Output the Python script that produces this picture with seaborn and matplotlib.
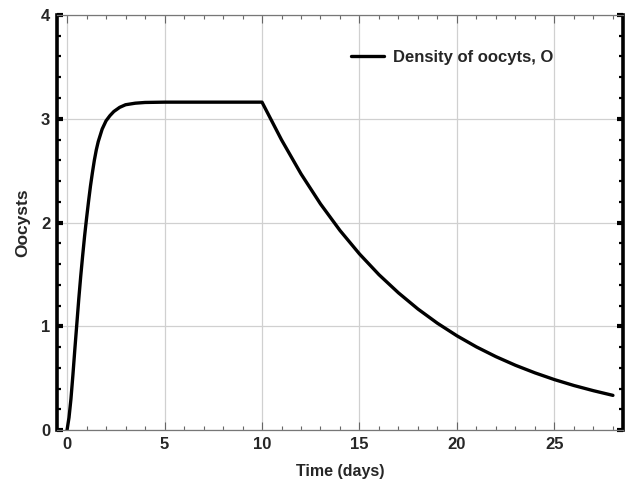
import matplotlib
matplotlib.use("Agg")
import matplotlib.pyplot as plt
from matplotlib.ticker import MultipleLocator
import seaborn as sns
import pandas as pd

# Values
rise_time = [0.0, 0.1, 0.2, 0.3, 0.4, 0.5, 0.6, 0.7, 0.8, 0.9, 1.0, 1.1, 1.2, 1.3,
             1.4, 1.5, 1.6, 1.8, 2.0, 2.2, 2.4, 2.7, 3.0, 3.5, 4.0, 5.0, 6.0, 8.0]
rise_value = [0.0, 0.12, 0.30, 0.53, 0.78, 1.02, 1.26, 1.48, 1.68, 1.87, 2.04, 2.20, 2.35, 2.48,
              2.60, 2.70, 2.78, 2.90, 2.98, 3.03, 3.07, 3.11, 3.135, 3.15, 3.157, 3.16, 3.16, 3.16]
decay_time = [10, 11, 12, 13, 14, 15, 16, 17, 18, 19, 20, 21, 22, 23, 24, 25, 26, 27, 28]
decay_value = [3.16, 2.797, 2.469, 2.179, 1.923, 1.697, 1.497, 1.322, 1.166, 1.029, 0.908,
               0.801, 0.707, 0.624, 0.551, 0.486, 0.429, 0.379, 0.334]
x_ticks = [0, 5, 10, 15, 20, 25]
y_ticks = [0, 1, 2, 3, 4]
series_label = "Density of oocyts, O"

df = pd.DataFrame({"Time": rise_time + decay_time, "O": rise_value + decay_value})

sns.set_theme(style="white")
plt.rcParams["font.family"] = ["Liberation Sans", "DejaVu Sans"]
plt.rcParams["font.weight"] = "bold"

fig = plt.figure(figsize=(6.27, 4.90), dpi=100)
ax = fig.add_axes([0.0914, 0.1224, 0.9017, 0.847])

sns.lineplot(data=df, x="Time", y="O", ax=ax, color="black", linewidth=2.4,
             label=series_label, sort=True, estimator=None)

ax.set_xlim(-0.5, 28.5)
ax.set_ylim(0, 4)
ax.set_xticks(x_ticks)
ax.set_yticks(y_ticks)
ax.xaxis.set_minor_locator(MultipleLocator(1))
ax.yaxis.set_minor_locator(MultipleLocator(0.2))

ax.grid(True, which="major", color="#d0d0d0", linewidth=0.9)
ax.set_axisbelow(True)

for side in ["left", "right"]:
    ax.spines[side].set_color("black")
    ax.spines[side].set_linewidth(2.6)
for side in ["top", "bottom"]:
    ax.spines[side].set_color("#777777")
    ax.spines[side].set_linewidth(0.9)

ax.tick_params(axis="x", which="both", direction="in", top=True, bottom=True,
               color="#666666", labelsize=12, pad=5)
ax.tick_params(axis="x", which="major", length=5.5, width=0.8)
ax.tick_params(axis="x", which="minor", length=3, width=0.8)
ax.tick_params(axis="y", which="both", direction="in", left=True, right=True,
               color="black", labelsize=12, pad=5)
ax.tick_params(axis="y", which="major", length=4.5, width=3)
ax.tick_params(axis="y", which="minor", length=3, width=1.6)
for lab in ax.get_xticklabels() + ax.get_yticklabels():
    lab.set_fontweight("bold")

ax.set_xlabel("Time (days)", fontsize=11.5, fontweight="bold", labelpad=9)
ax.set_ylabel("Oocysts", fontsize=12.5, fontweight="bold", labelpad=8)

leg = ax.legend(loc="upper left", bbox_to_anchor=(0.507, 0.932), frameon=False,
                prop={"weight": "bold", "size": 12}, handlelength=2.0,
                handletextpad=0.55, borderaxespad=0)

fig.savefig("out.png", dpi=100)
